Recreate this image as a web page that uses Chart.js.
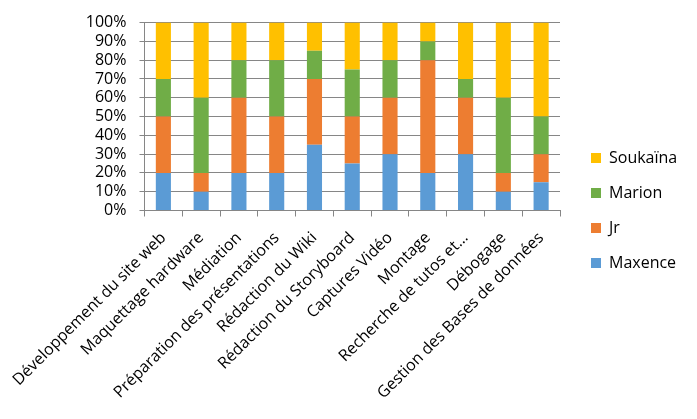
<!DOCTYPE html>
<html>
<head>
<meta charset="utf-8">
<script src="https://cdn.jsdelivr.net/npm/chart.js@4"></script>
<style>
  html, body { margin: 0; padding: 0; background: #fff; }
  #wrap { width: 697px; height: 419px; }
</style>
</head>
<body>
<div id="wrap"><canvas id="tachesChart" width="697" height="419"></canvas></div>
<script>
// Répartition des tâches (en %)
const taches = [
  'Développement du site web', 'Maquettage hardware', 'Médiation',
  'Préparation des présentations', 'Rédaction du Wiki', 'Rédaction du Storyboard',
  'Captures Vidéo', 'Montage', 'Recherche de tutos et…', 'Débogage',
  'Gestion des Bases de données'
];
const maxence  = [20, 10, 20, 20, 35, 25, 30, 20, 30, 10, 15];
const jr       = [30, 10, 40, 30, 35, 25, 30, 60, 30, 10, 15];
const marion   = [20, 40, 20, 30, 15, 25, 20, 10, 10, 40, 20];
const soukaina = [30, 40, 20, 20, 15, 25, 20, 10, 30, 40, 50];
const yTicks = [0, 10, 20, 30, 40, 50, 60, 70, 80, 90, 100];

const gris = '#868686';
const police = { family: 'Open Sans', size: 16 };

function serie(label, data, couleur) {
  return { label, data, backgroundColor: couleur, borderWidth: 0, barPercentage: 0.4, categoryPercentage: 1 };
}

const ctx = document.getElementById('tachesChart').getContext('2d');
new Chart(ctx, {
  type: 'bar',
  data: {
    labels: taches,
    datasets: [
      serie('Maxence', maxence, '#5B9BD5'),
      serie('Jr', jr, '#ED7D31'),
      serie('Marion', marion, '#70AD47'),
      serie('Soukaïna', soukaina, '#FFC000')
    ]
  },
  options: {
    responsive: false,
    animation: false,
    devicePixelRatio: 1,
    layout: { padding: { top: 17, left: 12, right: 13, bottom: 15 } },
    plugins: {
      tooltip: { enabled: false },
      legend: {
        position: 'right',
        reverse: true,
        labels: { boxWidth: 10, boxHeight: 10, padding: 19, color: '#000', font: police }
      }
    },
    scales: {
      x: {
        stacked: true,
        grid: { offset: true, drawOnChartArea: false, drawTicks: true, tickLength: 6, color: gris },
        border: { color: gris },
        ticks: { autoSkip: false, maxRotation: 45, minRotation: 45, color: '#000', font: police, padding: 12 }
      },
      y: {
        stacked: true,
        min: 0,
        max: 100,
        afterBuildTicks: axis => { axis.ticks = yTicks.map(v => ({ value: v })); },
        grid: { color: gris, drawTicks: true, tickLength: 5 },
        border: { color: gris },
        ticks: { autoSkip: false, color: '#000', font: police, padding: 13, callback: v => v + '%' }
      },
      // espace vide entre le graphique et la légende
      marge: {
        position: 'right',
        display: true,
        grid: { display: false },
        border: { display: false },
        ticks: { display: false },
        afterFit: s => { s.width = 12; }
      }
    }
  }
});
</script>
</body>
</html>
